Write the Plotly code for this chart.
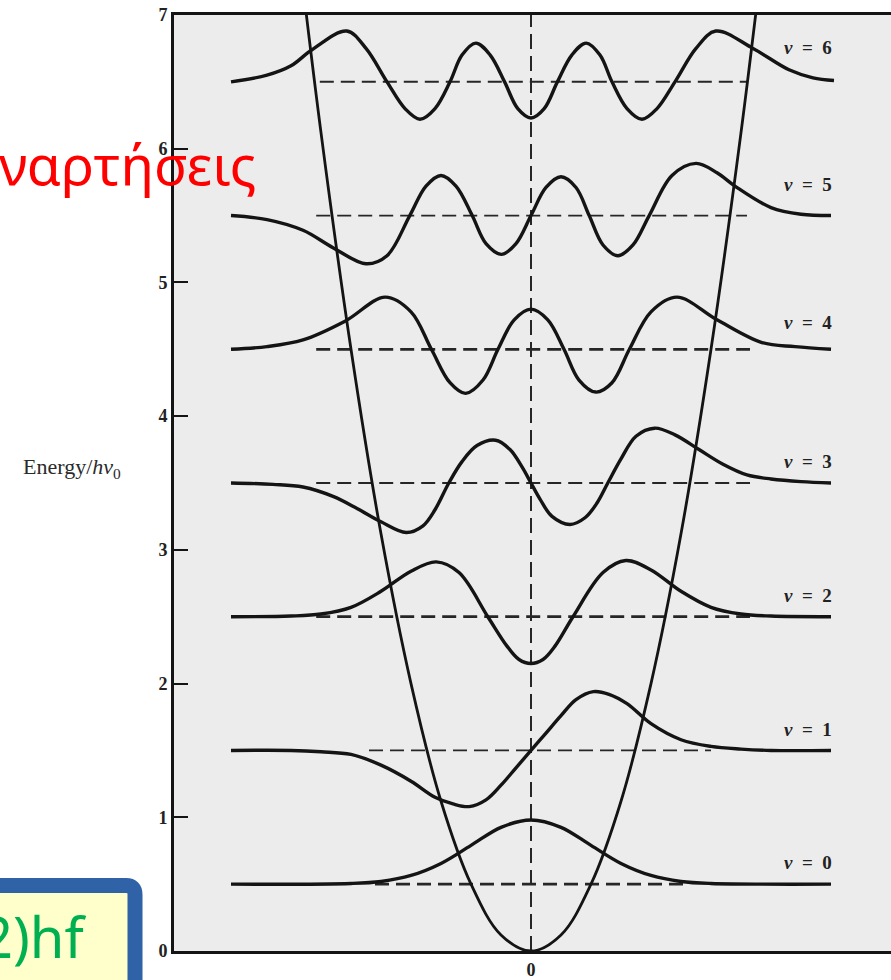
import plotly.graph_objects as go

# ---------------- data ----------------
energy_ticks = [0, 1, 2, 3, 4, 5, 6, 7]
levels = [0.5, 1.5, 2.5, 3.5, 4.5, 5.5, 6.5]
level_labels = ["v = 0", "v = 1", "v = 2", "v = 3", "v = 4", "v = 5", "v = 6"]
label_E = [0.66, 1.66, 2.66, 3.66, 4.70, 5.73, 6.76]
level_left = [-2.6, -2.7, -3.58, -3.58, -3.58, -3.58, -3.52]
level_right = [2.6, 3.0, 3.65, 3.65, 3.65, 3.6, 3.6]

pot_x = [-3.85, -3.5, -3.0, -2.5, -2.0, -1.5, -1.0, -0.5, 0.0, 0.5, 1.0, 1.5, 2.0, 2.5, 3.0, 3.5, 3.85]
pot_E = [7.4, 6.12, 4.5, 3.12, 2.0, 1.12, 0.5, 0.12, 0.0, 0.12, 0.5, 1.12, 2.0, 3.12, 4.5, 6.12, 7.4]

psi0_x = [-5.0, -3.0, -2.5, -2.0, -1.5, -1.0, -0.5, 0.0, 0.5, 1.0, 1.5, 2.0, 2.5, 3.0, 5.0]
psi0_E = [0.5, 0.505, 0.52, 0.565, 0.655, 0.79, 0.925, 0.98, 0.925, 0.79, 0.655, 0.565, 0.52, 0.505, 0.5]

psi1_x = [-5.0, -4.0, -3.5, -3.0, -2.5, -2.0, -1.6, -1.3, -1.03, -0.75, -0.5, -0.25, 0.0,
          0.25, 0.5, 0.75, 1.04, 1.3, 1.6, 2.0, 2.5, 3.0, 3.5, 4.0, 5.0]
psi1_E = [1.5, 1.5, 1.49, 1.47, 1.39, 1.27, 1.15, 1.10, 1.08, 1.13, 1.24, 1.37, 1.5,
          1.63, 1.76, 1.88, 1.94, 1.92, 1.85, 1.70, 1.58, 1.53, 1.51, 1.5, 1.5]

psi2_x = [-5.0, -4.0, -3.5, -3.0, -2.5, -2.0, -1.58, -1.2, -0.72, -0.4, -0.2, 0.0, 0.2, 0.4, 0.70,
          1.2, 1.58, 2.0, 2.5, 3.0, 3.5, 4.0, 5.0]
psi2_E = [2.5, 2.505, 2.52, 2.57, 2.69, 2.84, 2.91, 2.83, 2.5, 2.28, 2.18, 2.15, 2.18, 2.28, 2.5,
          2.83, 2.92, 2.85, 2.69, 2.57, 2.52, 2.505, 2.5]

psi3_x = [-5.0, -4.3, -3.8, -3.3, -2.9, -2.5, -2.08, -1.8, -1.6, -1.37, -1.15, -0.9, -0.59, -0.35,
          -0.15, 0.0, 0.15, 0.35, 0.65, 0.9, 1.1, 1.28, 1.5, 1.75, 2.06, 2.4, 2.8, 3.2, 3.6, 4.0, 4.5, 5.0]
psi3_E = [3.5, 3.49, 3.47, 3.40, 3.31, 3.21, 3.13, 3.18, 3.30, 3.5, 3.66, 3.78, 3.82, 3.75,
          3.62, 3.5, 3.38, 3.25, 3.19, 3.24, 3.35, 3.5, 3.68, 3.85, 3.91, 3.86, 3.75, 3.64, 3.56, 3.53, 3.51, 3.5]

psi4_x = [-5.0, -4.4, -3.8, -3.1, -2.43, -2.0, -1.66, -1.35, -1.09, -0.8, -0.55, -0.28, 0.0,
          0.28, 0.55, 0.8, 1.08, 1.35, 1.64, 2.0, 2.43, 3.1, 3.85, 4.4, 5.0]
psi4_E = [4.5, 4.52, 4.57, 4.71, 4.89, 4.78, 4.5, 4.25, 4.17, 4.27, 4.5, 4.72, 4.80,
          4.72, 4.5, 4.27, 4.18, 4.25, 4.5, 4.78, 4.89, 4.72, 4.55, 4.52, 4.5]

psi5_x = [-5.0, -4.4, -3.8, -3.3, -2.75, -2.4, -2.02, -1.75, -1.5, -1.25, -0.98, -0.75, -0.49, -0.25,
          0.0, 0.25, 0.5, 0.75, 0.97, 1.2, 1.45, 1.7, 1.97, 2.35, 2.75, 3.1, 3.4, 4.0, 4.5, 5.0]
psi5_E = [5.5, 5.47, 5.39, 5.26, 5.14, 5.20, 5.5, 5.72, 5.80, 5.72, 5.5, 5.29, 5.21, 5.29,
          5.5, 5.71, 5.79, 5.71, 5.5, 5.28, 5.20, 5.28, 5.5, 5.80, 5.89, 5.82, 5.72, 5.56, 5.51, 5.5]

psi6_x = [-5.0, -4.4, -4.0, -3.65, -3.07, -2.75, -2.4, -2.1, -1.85, -1.6, -1.35, -1.15, -0.92, -0.68,
          -0.44, -0.22, 0.0, 0.22, 0.44, 0.68, 0.92, 1.15, 1.35, 1.6, 1.85, 2.1, 2.4, 2.75, 3.08,
          3.7, 4.3, 4.7, 5.05]
psi6_E = [6.5, 6.55, 6.62, 6.74, 6.88, 6.75, 6.5, 6.30, 6.22, 6.30, 6.5, 6.70, 6.79, 6.70,
          6.5, 6.30, 6.23, 6.30, 6.5, 6.70, 6.79, 6.70, 6.5, 6.30, 6.22, 6.30, 6.5, 6.75, 6.88,
          6.75, 6.59, 6.53, 6.51]

# ---------------- figure ----------------
W, H = 891, 980
ML, MR, MT, MB = 174, 0, 15, 29
INK = "#141414"
level_widths = [2.6, 1.8, 2.8, 1.8, 2.8, 1.8, 2.0]
NB = "\u00a0"

fig = go.Figure()

# energy level dashed lines
for lv, xl, xr, lw in zip(levels, level_left, level_right, level_widths):
    fig.add_trace(go.Scatter(x=[xl, xr], y=[lv, lv], mode="lines",
                             line=dict(color="#262626", width=lw, dash="14px,7px"),
                             hoverinfo="skip", showlegend=False))

# central vertical dashed line
fig.add_trace(go.Scatter(x=[0, 0], y=[energy_ticks[0], energy_ticks[-1]], mode="lines",
                         line=dict(color="#262626", width=2, dash="15px,7px"),
                         hoverinfo="skip", showlegend=False))

# potential parabola
fig.add_trace(go.Scatter(x=pot_x, y=pot_E, mode="lines",
                         line=dict(color=INK, width=2.8, shape="spline", smoothing=1.0),
                         hoverinfo="skip", showlegend=False))

# wavefunctions
for xs, es in [(psi0_x, psi0_E), (psi1_x, psi1_E), (psi2_x, psi2_E), (psi3_x, psi3_E),
               (psi4_x, psi4_E), (psi5_x, psi5_E), (psi6_x, psi6_E)]:
    fig.add_trace(go.Scatter(x=xs, y=es, mode="lines",
                             line=dict(color=INK, width=3.4, shape="spline", smoothing=1.0),
                             hoverinfo="skip", showlegend=False))

# level labels
for lab, ey in zip(level_labels, label_E):
    v, n = lab.split(" = ")
    fig.add_annotation(x=5.05, y=ey, xref="x", yref="y",
                       text=f"<b><i>{v}</i>{NB}{NB}={NB}{NB}{n}</b>",
                       showarrow=False, xanchor="right", yanchor="middle",
                       font=dict(family="Liberation Serif", size=19, color="#222"))

# helpers for pixel -> paper
def px(xp):
    return (xp - ML) / (W - ML - MR)

def py(yp):
    return (H - MB - yp) / (H - MT - MB)

# axis title
fig.add_annotation(x=px(72), y=py(468), xref="paper", yref="paper",
                   text="Energy/<i>hν</i><sub>0</sub>", showarrow=False,
                   xanchor="center", yanchor="middle",
                   font=dict(family="Liberation Serif", size=22, color="#2a2a2a"))

# red Greek overlay text
fig.add_annotation(x=px(-3), y=py(163), xref="paper", yref="paper",
                   text="ναρτήσεις", showarrow=False, xanchor="left", yanchor="middle",
                   font=dict(family="Noto Sans", size=55, color="#ff0000"))

# bottom-left box
bx0, bx1, by0, by1, r = -30, 135, 885.5, 1010, 9
path = (f"M {px(bx0)},{py(by0)} L {px(bx1 - r)},{py(by0)} "
        f"Q {px(bx1)},{py(by0)} {px(bx1)},{py(by0 + r)} "
        f"L {px(bx1)},{py(by1)} L {px(bx0)},{py(by1)} Z")
fig.add_shape(type="path", path=path, xref="paper", yref="paper",
              line=dict(color="#2f62a6", width=15), fillcolor="#ffffcc", layer="above")
fig.add_annotation(x=px(88), y=py(936), xref="paper", yref="paper",
                   text="2)hf", showarrow=False, xanchor="right", yanchor="middle",
                   font=dict(family="Noto Sans", size=56, color="#00b050"))

fig.update_layout(
    width=W, height=H, autosize=False,
    margin=dict(l=ML, r=MR, t=MT, b=MB, pad=0),
    paper_bgcolor="white", plot_bgcolor="#ececec",
    xaxis=dict(range=[-5.95, 6.0], showgrid=False, zeroline=False,
               showline=True, linewidth=3, linecolor=INK, mirror=True,
               tickvals=[0], ticktext=["<b>0</b>"], ticks="",
               tickfont=dict(family="Liberation Serif", size=18, color="#222")),
    yaxis=dict(range=[0, 7], showgrid=False, zeroline=False,
               showline=True, linewidth=3, linecolor=INK, mirror=False,
               tickvals=energy_ticks, ticktext=[f"<b>{t}</b>" for t in energy_ticks],
               ticks="inside", ticklen=14, tickwidth=2, tickcolor=INK,
               tickfont=dict(family="Liberation Serif", size=18, color="#222")),
)

fig.write_html("out.html", config={"displayModeBar": False},
               post_script="document.body.style.margin='0';")
